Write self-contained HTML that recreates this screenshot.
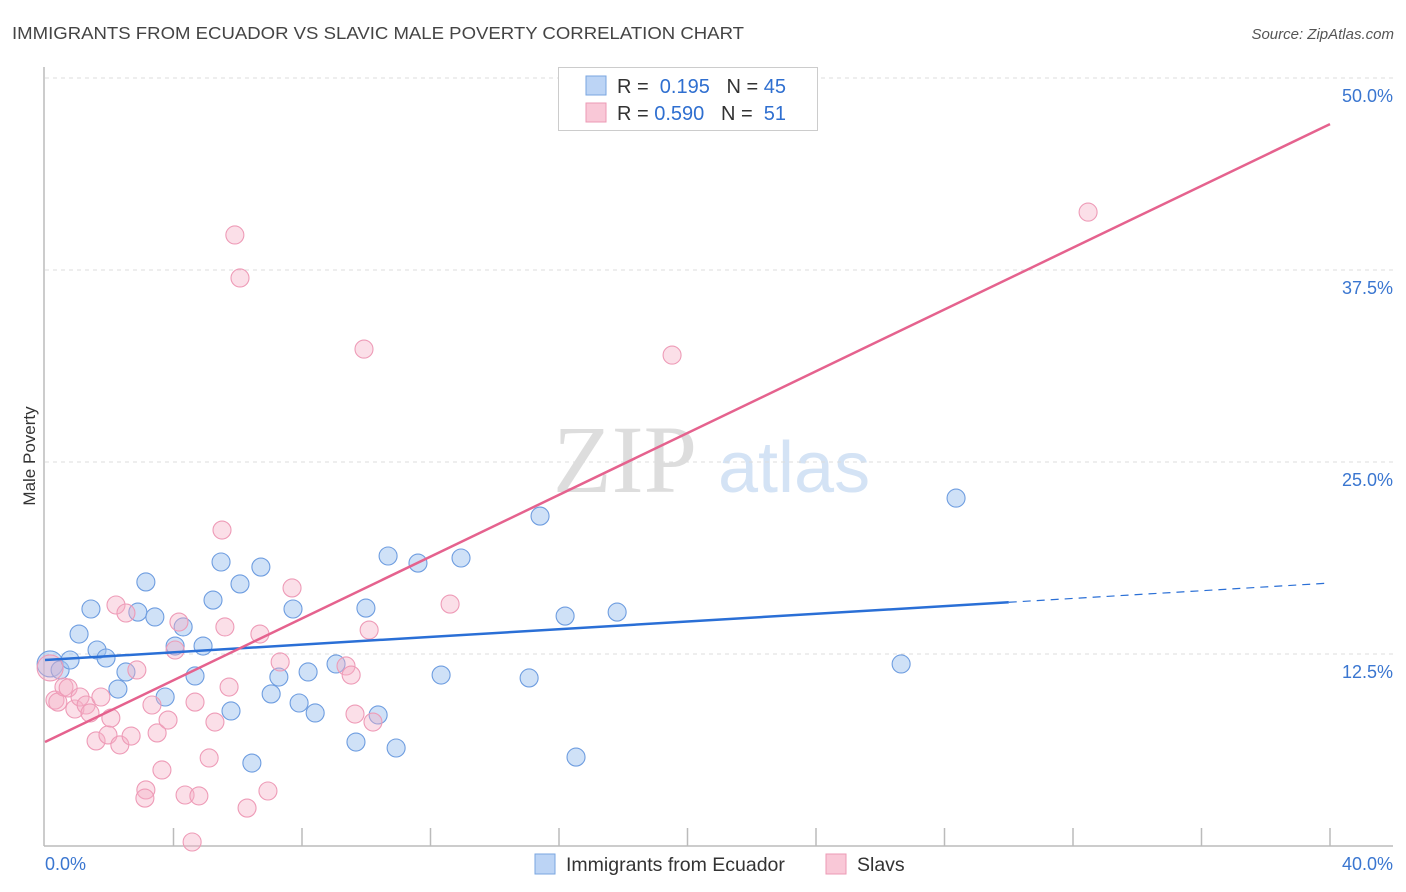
<!DOCTYPE html>
<html><head><meta charset="utf-8"><style>
body{margin:0;background:#fff;font-family:"Liberation Sans",sans-serif;}
#wrap{position:relative;width:1406px;height:892px;overflow:hidden;}
</style></head><body>
<div id="wrap">
<svg id="svg" width="1406" height="892" xmlns="http://www.w3.org/2000/svg">
<text x="12" y="39" font-size="17.5" fill="#444" textLength="732" lengthAdjust="spacingAndGlyphs">IMMIGRANTS FROM ECUADOR VS SLAVIC MALE POVERTY CORRELATION CHART</text>
<text x="1394" y="39" font-size="15" fill="#555" text-anchor="end" font-style="italic">Source: ZipAtlas.com</text>
<text x="35" y="456" font-size="17" fill="#333" text-anchor="middle" transform="rotate(-90 35 456)">Male Poverty</text>
<g>
<text x="553" y="492" font-size="96" fill="#ddd" font-family="Liberation Serif,serif">ZIP</text>
<text x="718" y="492" font-size="72" fill="#d4e3f5">atlas</text>
</g>
<g id="grid"></g>
<g id="marks"></g>
<g>
<rect x="558.5" y="67.5" width="259" height="63" fill="#fff" stroke="#ccc"/>
<rect x="586" y="76" width="20" height="19" fill="#bcd4f5" stroke="#7aa6e0"/>
<rect x="586" y="103" width="20" height="19" fill="#f9c8d7" stroke="#ec9ab4"/>
<text x="617" y="93" font-size="20" fill="#333">R = <tspan fill="#2f6fd0">&#160;0.195</tspan><tspan fill="#333">&#160;&#160;&#160;N = </tspan><tspan fill="#2f6fd0">45</tspan></text>
<text x="617" y="120" font-size="20" fill="#333">R = <tspan fill="#2f6fd0">0.590</tspan><tspan fill="#333">&#160;&#160;&#160;N = </tspan><tspan fill="#2f6fd0">&#160;51</tspan></text>
</g>
<g>
<rect x="535" y="854" width="20" height="20" fill="#bcd4f5" stroke="#7aa6e0"/>
<text x="566" y="871" font-size="19.5" fill="#333">Immigrants from Ecuador</text>
<rect x="826" y="854" width="20" height="20" fill="#f9c8d7" stroke="#ec9ab4"/>
<text x="857" y="871" font-size="19.5" fill="#333">Slavs</text>
</g>
</svg>
</div>
<script>
const xTicks=[0,4,8,12,16,20,24,28,32,36,40];
const yTicks=[12.5,25,37.5,50];
const yTickLabels=["12.5%","25.0%","37.5%","50.0%"];
const blueX=[0.16,0.47,0.78,1.06,1.43,1.62,1.90,2.27,2.52,2.89,3.14,3.42,3.74,4.05,4.30,4.67,4.92,5.23,5.48,5.79,6.07,6.44,6.72,7.04,7.28,7.72,7.91,8.19,8.41,9.06,9.68,9.99,10.37,10.68,10.93,11.61,12.33,12.95,15.07,15.41,16.19,16.53,17.81,26.65,28.36];
const blueY=[11.85,11.46,12.11,13.80,15.43,12.76,12.24,10.22,11.33,15.23,17.19,14.91,9.70,13.02,14.26,11.07,13.02,16.01,18.49,8.79,17.06,5.40,18.16,9.90,11.00,15.43,9.31,11.33,8.66,11.85,6.77,15.49,8.53,18.88,6.38,18.42,11.13,18.75,10.94,21.48,14.97,5.79,15.23,11.85,22.65];
const pinkX=[0.16,0.31,0.40,0.59,0.72,0.93,1.09,1.28,1.40,1.59,1.74,1.96,2.05,2.21,2.33,2.52,2.68,2.86,3.14,3.11,3.33,3.49,3.64,3.83,4.05,4.17,4.36,4.67,4.79,5.11,5.29,5.51,5.60,5.73,5.91,6.07,6.29,6.69,6.94,7.32,7.69,9.37,9.53,9.65,9.93,10.09,10.21,12.61,19.52,32.47,4.58];
const pinkY=[11.59,9.50,9.37,10.35,10.29,8.92,9.70,9.18,8.66,6.84,9.70,7.23,8.33,15.69,6.58,15.17,7.16,11.46,3.65,3.12,9.18,7.36,4.95,8.20,12.76,14.58,3.32,9.37,3.26,5.73,8.07,20.57,14.26,10.35,39.78,36.98,2.47,13.80,3.58,11.98,16.80,11.72,11.13,8.59,32.35,14.06,8.07,15.75,31.96,41.27,0.26];
const blueTrend=[12.11,17.12];
const pinkTrend=[6.77,47.0];
const X=v=>45+v/40*1285;
const Y=v=>846-v/12.5*192;
const NS="http://www.w3.org/2000/svg";
function mk(tag,attrs,parent){const e=document.createElementNS(NS,tag);for(const k in attrs)e.setAttribute(k,attrs[k]);parent.appendChild(e);return e;}
const grid=document.getElementById('grid'),marks=document.getElementById('marks');
yTicks.forEach((t,i)=>{
 const l=mk('line',{x1:45,x2:1393,y1:Y(t),y2:Y(t),stroke:'#ddd','stroke-dasharray':'4,4'},grid);
 
 
 const tx=mk('text',{x:1393,y:Y(t)+24,'font-size':18,fill:'#3a76d0','text-anchor':'end'},grid);
 tx.textContent=yTickLabels[i];
 
 
});
const ax=mk('line',{x1:44,x2:44,y1:67,y2:846,stroke:'#bbb','stroke-width':1.5},grid);


const bx=mk('line',{x1:44,x2:1393,y1:846,y2:846,stroke:'#bbb','stroke-width':1.5},grid);


xTicks.forEach((t,i)=>{if(i==0)return;
 const l=mk('line',{x1:X(t),x2:X(t),y1:828,y2:846,stroke:'#bbb','stroke-width':1.5},grid);
 
 
});
const xl0=mk('text',{x:45,y:870,'font-size':18,fill:'#3a76d0'},grid);xl0.textContent='0.0%';


const xl1=mk('text',{x:1393,y:870,'font-size':18,fill:'#3a76d0','text-anchor':'end'},grid);xl1.textContent='40.0%';


blueX.forEach((x,i)=>{
 const c=mk('circle',{cx:X(x),cy:Y(blueY[i]),r:i==0?13:9,fill:'rgba(160,196,240,0.5)',stroke:'#6e9de0','stroke-width':1.1},marks);
 
 
});
pinkX.forEach((x,i)=>{
 const c=mk('circle',{cx:X(x),cy:Y(pinkY[i]),r:i==0?13:9,fill:'rgba(246,175,198,0.4)',stroke:'#ee9bb7','stroke-width':1.1},marks);
 
 
});
const bAt=v=>blueTrend[0]+(blueTrend[1]-blueTrend[0])*v/40;
const t1=mk('line',{x1:X(0),y1:Y(bAt(0)),x2:X(30),y2:Y(bAt(30)),stroke:'#2a6fd6','stroke-width':2.5},marks);


const t2=mk('line',{x1:X(30),y1:Y(bAt(30)),x2:X(40),y2:Y(bAt(40)),stroke:'#2a6fd6','stroke-width':1.2,'stroke-dasharray':'8,6'},marks);


const t3=mk('line',{x1:X(0),y1:Y(pinkTrend[0]),x2:X(40),y2:Y(pinkTrend[1]),stroke:'#e5628e','stroke-width':2.5},marks);


</script>
</body></html>
